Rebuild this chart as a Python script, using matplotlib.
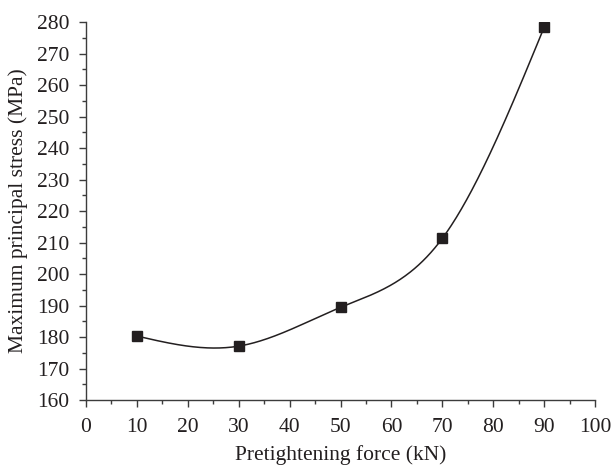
import numpy as np
import matplotlib
matplotlib.use("Agg")
import matplotlib.pyplot as plt
from matplotlib.ticker import MultipleLocator

force = [10, 30, 50, 70, 90]
stress = [180.3, 177.1, 189.4, 211.3, 278.3]

def natural_spline(x, y, xs):
    x = np.asarray(x, float); y = np.asarray(y, float)
    n = len(x)
    h = np.diff(x)
    A = np.zeros((n, n)); b = np.zeros(n)
    A[0, 0] = 1; A[-1, -1] = 1
    for i in range(1, n - 1):
        A[i, i - 1] = h[i - 1]
        A[i, i] = 2 * (h[i - 1] + h[i])
        A[i, i + 1] = h[i]
        b[i] = 3 * ((y[i + 1] - y[i]) / h[i] - (y[i] - y[i - 1]) / h[i - 1])
    c = np.linalg.solve(A, b)
    out = np.empty_like(xs)
    for k, xv in enumerate(xs):
        i = min(max(np.searchsorted(x, xv) - 1, 0), n - 2)
        dx = xv - x[i]
        bi = (y[i + 1] - y[i]) / h[i] - h[i] * (2 * c[i] + c[i + 1]) / 3
        di = (c[i + 1] - c[i]) / (3 * h[i])
        out[k] = y[i] + bi * dx + c[i] * dx ** 2 + di * dx ** 3
    return out

plt.rcParams['font.family'] = ['Liberation Serif', 'DejaVu Serif']
col = '#231f20'

fig = plt.figure(figsize=(6.13, 4.69), dpi=100)
ax = fig.add_axes([86 / 613, 69 / 469, 509 / 613, 378 / 469])

xs = np.linspace(force[0], force[-1], 400)
ax.plot(xs, natural_spline(force, stress, xs), color=col, lw=1.1)
ax.plot(force, stress, 's', color=col, ms=6.5, ls='none')

ax.set_xlim(0, 100)
ax.set_ylim(160, 280)
ax.xaxis.set_major_locator(MultipleLocator(10))
ax.xaxis.set_minor_locator(MultipleLocator(5))
ax.yaxis.set_major_locator(MultipleLocator(10))
ax.yaxis.set_minor_locator(MultipleLocator(5))
for s in ['top', 'right']:
    ax.spines[s].set_visible(False)
for s in ['left', 'bottom']:
    ax.spines[s].set_color('#3c3c3c')
    ax.spines[s].set_linewidth(1.0)
ax.tick_params(which='major', direction='out', length=5, width=1.0, color='#3c3c3c',
               labelsize=15.5, labelcolor=col)
ax.tick_params(which='minor', direction='out', length=3, width=1.0, color='#3c3c3c')
ax.tick_params(axis='x', which='major', pad=8)
ax.tick_params(axis='y', which='major', pad=7)
ax.set_xlabel('Pretightening force (kN)', fontsize=15.5, color=col, labelpad=6)
ax.set_ylabel('Maximum principal stress (MPa)', fontsize=15.5, color=col, labelpad=6)

fig.savefig('out.png', dpi=100)
